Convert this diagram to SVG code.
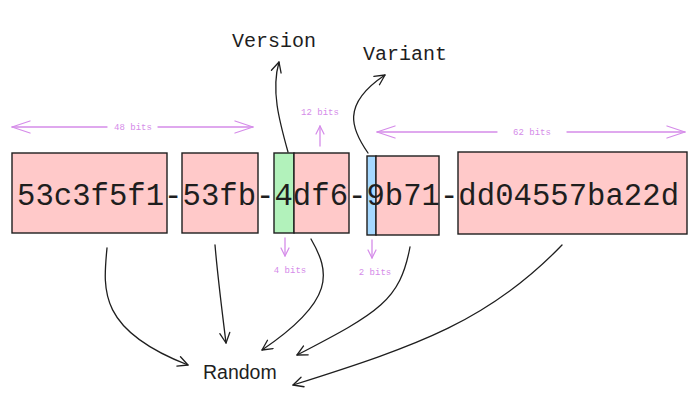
<svg xmlns="http://www.w3.org/2000/svg" width="700" height="404" viewBox="0 0 700 404">
<defs>
<style>
.box{stroke:#1e1e1e;stroke-width:1.4}
.pink{fill:#ffc9c9}
.green{fill:#b2f2bb}
.blue{fill:#a5d8ff}
.conn{fill:none;stroke:#1e1e1e;stroke-width:1.3;stroke-linecap:round}
.dim{fill:none;stroke:#d58ce9;stroke-width:1.3;stroke-linecap:round}
.dimtxt{font-family:"Liberation Mono",monospace;font-size:9px;fill:#d58ce9;text-anchor:middle}
.label{font-family:"Liberation Mono",monospace;font-size:20px;fill:#1e1e1e}
.uuid{font-family:"Liberation Mono",monospace;font-size:30.6px;fill:#1e1e1e}
</style>
<marker id="ah" viewBox="0 0 12 12" refX="11" refY="6" markerWidth="12" markerHeight="12" markerUnits="userSpaceOnUse" orient="auto">
<path d="M1,1 L11,6 L1,11" fill="none" stroke="#1e1e1e" stroke-width="1.3" stroke-linecap="round" stroke-linejoin="round"/>
</marker>
<marker id="ahp" viewBox="0 0 10 10" refX="9" refY="5" markerWidth="10" markerHeight="10" markerUnits="userSpaceOnUse" orient="auto">
<path d="M1,1 L9,5 L1,9" fill="none" stroke="#d58ce9" stroke-width="1.2" stroke-linecap="round" stroke-linejoin="round"/>
</marker>
<marker id="ahpl" viewBox="0 0 20 14" refX="19" refY="7" markerWidth="20" markerHeight="14" markerUnits="userSpaceOnUse" orient="auto">
<path d="M1,1 L19,7 L1,13" fill="none" stroke="#d58ce9" stroke-width="1.3" stroke-linecap="round" stroke-linejoin="round"/>
</marker>
</defs>
<rect width="700" height="404" fill="#ffffff"/>

<g id="seg1"><rect class="box pink" x="12" y="153" width="155" height="80"/></g>
<g id="seg2"><rect class="box pink" x="182" y="153" width="76" height="80"/></g>
<g id="version-nibble"><rect class="box green" x="274" y="153" width="20" height="80"/></g>
<g id="seg3"><rect class="box pink" x="294" y="153" width="55" height="80"/></g>
<g id="variant-bits"><rect class="box blue" x="367" y="156" width="9" height="79"/></g>
<g id="seg4"><rect class="box pink" x="376" y="156" width="63" height="79"/></g>
<g id="seg5"><rect class="box pink" x="458" y="152" width="229" height="82"/></g>

<g id="uuid-text"><text class="uuid" x="17" y="205" textLength="662" lengthAdjust="spacing">53c3f5f1-53fb-4df6-9b71-dd04557ba22d</text></g>

<g id="version-label"><text class="label" x="232" y="47">Version</text></g>
<g id="variant-label"><text class="label" x="363" y="60">Variant</text></g>
<g id="random-label"><text x="203" y="379" font-family="Liberation Sans, sans-serif" font-size="19.5" fill="#1e1e1e">Random</text></g>

<g id="dimensions">
<path class="dim" d="M107 127 L12 127" marker-end="url(#ahpl)"/>
<path class="dim" d="M158 127 L253 127" marker-end="url(#ahpl)"/>
<text class="dimtxt" x="133" y="130">48 bits</text>
<path class="dim" d="M320 146 L320 126" marker-end="url(#ahp)"/>
<text class="dimtxt" x="320" y="115">12 bits</text>
<path class="dim" d="M285 238 L285 256" marker-end="url(#ahp)"/>
<text class="dimtxt" x="290" y="273">4 bits</text>
<path class="dim" d="M372 240 L372 258" marker-end="url(#ahp)"/>
<text class="dimtxt" x="375" y="275">2 bits</text>
<path class="dim" d="M497 132 L377 132" marker-end="url(#ahpl)"/>
<path class="dim" d="M567 132 L685 132" marker-end="url(#ahpl)"/>
<text class="dimtxt" x="532" y="135">62 bits</text>
</g>

<g id="connectors">
<path class="conn" d="M288 152 C279 120 271 90 279 62" marker-end="url(#ah)"/>
<path class="conn" d="M368 153 C352 130 340 105 385 75" marker-end="url(#ah)"/>
<path class="conn" d="M107 248 C103 290 98 330 188 365" marker-end="url(#ah)"/>
<path class="conn" d="M215 245 C218 280 222 310 226 343" marker-end="url(#ah)"/>
<path class="conn" d="M311 239 C330 272 336 300 262 350" marker-end="url(#ah)"/>
<path class="conn" d="M410 247 C400 300 380 312 297 355" marker-end="url(#ah)"/>
<path class="conn" d="M562 245 C490 320 420 345 293 385" marker-end="url(#ah)"/>
</g>
</svg>
